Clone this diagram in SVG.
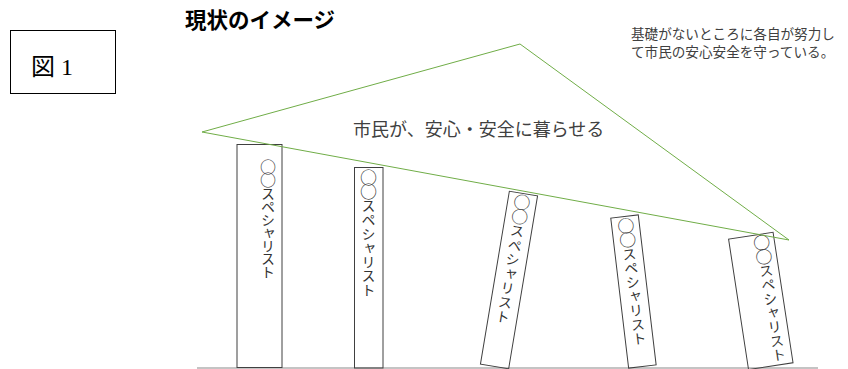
<svg xmlns="http://www.w3.org/2000/svg" width="848" height="369" viewBox="0 0 848 369">
<style>
.jp{font-family:"Noto Sans CJK JP","Noto Sans",sans-serif;}
.pillar{fill:none;stroke:#404040;stroke-width:1;}
.vt{font-family:"Noto Sans CJK JP",sans-serif;font-size:14px;fill:#333;writing-mode:vertical-rl;}
.c{font-size:17px;}
.note{font-family:"Noto Sans CJK JP",sans-serif;font-size:13.6px;fill:#404040;}
</style>
<rect width="848" height="369" fill="#fff"/>
<g id="fig-label">
<rect x="10.5" y="30.5" width="105" height="63" fill="#fff" stroke="#000" stroke-width="1"/>
<text x="31" y="75" font-family="'Liberation Serif','Noto Sans CJK JP',serif" font-size="24" fill="#000">図 1</text>
</g>
<g id="title">
<text x="185" y="28" class="jp" font-size="21.5" font-weight="bold" fill="#000">現状のイメージ</text>
</g>
<g id="note">
<text x="631" y="39" class="note">基礎がないところに各自が努力し</text>
<text x="631" y="57" class="note">て市民の安心安全を守っている。</text>
</g>
<g id="ground">
<line x1="197" y1="368" x2="818" y2="368" stroke="#b0b0b0" stroke-width="1.5"/>
</g>
<g id="pillar1">
<rect class="pillar" x="237" y="144.5" width="45" height="223"/>
<text class="vt" x="268" font-size="13" y="159 172 186.5 199.5 212.5 225.5 238.5 251.5 264.5"><tspan style="font-size:16px">○○</tspan>スペシャリスト</text>
</g>
<g id="pillar2">
<rect class="pillar" x="354.5" y="167.5" width="28.5" height="200.5"/>
<text class="vt" x="368.5" y="169 183 198.5 212.5 226.5 240.5 254.5 268.5 282.5"><tspan class="c">○○</tspan>スペシャリスト</text>
</g>
<g id="pillar3" transform="translate(509,280) rotate(9.5)">
<rect class="pillar" x="-14.3" y="-87.6" width="28.6" height="175.2"/>
<text class="vt" x="0" y="-87.2 -72.7 -56.7 -42.2 -27.7 -13.2 1.3 15.8 30.3"><tspan class="c">○○</tspan>スペシャリスト</text>
</g>
<g id="pillar4" transform="translate(633.5,291.5) rotate(-6.8)">
<rect class="pillar" x="-13.9" y="-75.5" width="27.7" height="151"/>
<text class="vt" x="0.3" y="-74.6 -60.4 -44.7 -30.5 -16.3 -2.1 12.1 26.3 40.5"><tspan class="c">○○</tspan>スペシャリスト</text>
</g>
<g id="pillar5" transform="translate(760.8,300.9) rotate(-8.7)">
<rect class="pillar" x="-22.5" y="-66" width="45" height="132"/>
<text class="vt" x="9.7" y="-65.9 -51.7 -36 -21.8 -7.6 6.6 20.8 35 49.2"><tspan class="c">○○</tspan>スペシャリスト</text>
</g>
<g id="roof">
<polygon points="202,132 520,44 789,240" fill="none" stroke="#70ad47" stroke-width="1"/>
<text x="353" y="136" class="jp" font-size="18" fill="#404040">市民が、安心・安全に暮らせる</text>
</g>
<g id="connectors"></g>
</svg>
